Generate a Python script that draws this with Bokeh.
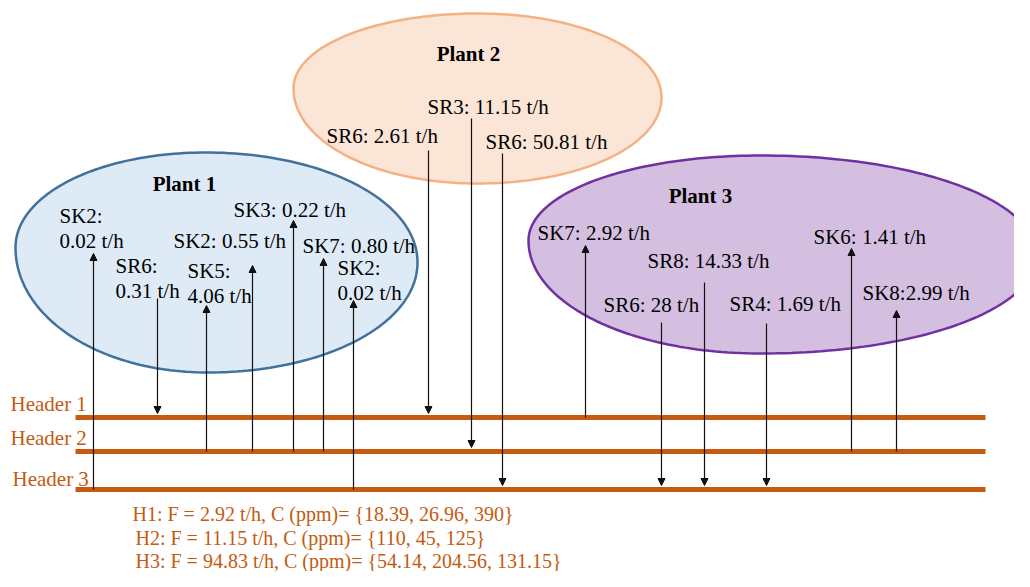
import numpy as np
from bokeh.plotting import figure
from bokeh.models import Range1d, ColumnDataSource, Arrow, NormalHead
from bokeh.core.properties import value
from bokeh.embed import file_html
from bokeh.resources import INLINE

# ---------------- data ----------------
plants = ["Plant 1", "Plant 2", "Plant 3"]
headers = ["Header 1", "Header 2", "Header 3"]

# streams: plant index, stream name, flow (t/h), header index (0..2)
stream_plant = [0, 0, 0, 0, 0, 0, 0, 1, 1, 1, 2, 2, 2, 2, 2, 2]
stream_name = ["SK2", "SR6", "SK5", "SK2", "SK3", "SK7", "SK2",
               "SR6", "SR3", "SR6",
               "SK7", "SR6", "SR8", "SR4", "SK6", "SK8"]
stream_flow = [0.02, 0.31, 4.06, 0.55, 0.22, 0.80, 0.02,
               2.61, 11.15, 50.81,
               2.92, 28, 14.33, 1.69, 1.41, 2.99]
stream_header = [2, 0, 1, 1, 1, 1, 2,
                 0, 1, 2,
                 0, 2, 2, 2, 1, 1]

header_flow = [2.92, 11.15, 94.83]
header_conc = [[18.39, 26.96, 390], [110, 45, 125], [54.14, 204.56, 131.15]]

# ---------------- layout (positions, styles) ----------------
W, H = 1014, 571
header_y = [417, 451, 489]
header_x0, header_x1 = 75, 985
header_label_xy = [(10, 403), (10, 437), (12, 478)]
ORANGE = "#C55A11"

plant_label_xy = [(184, 183), (468, 53), (700, 195)]
plant_fill = ["#DEEBF7", "#FBE5D6", "#D5BFE1"]
plant_line = ["#41719C", "#F4B183", "#7030A0"]
# extreme points of each blob: left, top, right, bottom
plant_shape = [
    [(15, 247), (205, 152), (417, 262), (207, 372)],
    [(293, 88), (477, 13), (661, 97), (477, 183)],
    [(528, 240), (760, 155), (1036, 255), (760, 353)],
]

# label positions (left, middle), two-line flag
label_xy = [(59, 215), (115, 265), (187, 270), (173, 240), (233, 209), (302, 245), (337, 267),
            (326, 135), (427, 106), (485, 141),
            (537, 232), (603, 304), (647, 260), (729, 303), (813, 236), (862, 292)]
two_line = [True, True, True, False, False, False, True,
            False, False, False,
            False, False, False, False, False, False]
no_space = [False] * 15 + [True]
# arrow x and plant-side y
arrow_x = [93, 157, 206, 252, 293, 323, 353,
           428, 471, 502,
           585, 661, 704, 766, 851, 896]
arrow_py = [253, 298, 305, 265, 220, 258, 300,
            150, 118, 153,
            245, 322, 282, 323, 248, 310]


def fmt(v):
    return str(int(v)) if float(v) == int(v) else f"{v:.2f}"


def blob(L, T, R, B, k=0.56, n=60):
    segs = [
        (L, (L[0], L[1] - k * (L[1] - T[1])), (T[0] - k * (T[0] - L[0]), T[1]), T),
        (T, (T[0] + k * (R[0] - T[0]), T[1]), (R[0], R[1] - k * (R[1] - T[1])), R),
        (R, (R[0], R[1] + k * (B[1] - R[1])), (B[0] + k * (R[0] - B[0]), B[1]), B),
        (B, (B[0] - k * (B[0] - L[0]), B[1]), (L[0], L[1] + k * (B[1] - L[1])), L),
    ]
    t = np.linspace(0, 1, n)
    xs, ys = [], []
    for p0, p1, p2, p3 in segs:
        for a in range(2):
            c = (1 - t) ** 3 * p0[a] + 3 * (1 - t) ** 2 * t * p1[a] + 3 * (1 - t) * t ** 2 * p2[a] + t ** 3 * p3[a]
            (xs if a == 0 else ys).extend(c.tolist())
    return xs, ys


p = figure(width=W, height=H, x_range=Range1d(0, W), y_range=Range1d(H, 0),
           output_backend="svg", toolbar_location=None, min_border=0)
p.axis.visible = False
p.grid.visible = False
p.outline_line_color = None
p.background_fill_color = "white"

FONT = value("Liberation Serif")

# plant blobs
for i in [0, 2, 1]:
    xs, ys = blob(*plant_shape[i])
    p.patch(xs, ys, fill_color=plant_fill[i], line_color=plant_line[i], line_width=2.5)

# plant titles
p.text(x=[xy[0] for xy in plant_label_xy], y=[xy[1] for xy in plant_label_xy], text=plants,
       text_font=FONT, text_font_size="21px", text_font_style="bold",
       text_align="center", text_baseline="middle", text_color="black")

# header lines
p.segment(x0=[header_x0] * 3, x1=[header_x1] * 3, y0=header_y, y1=header_y,
          line_color=ORANGE, line_width=5)
p.text(x=[xy[0] for xy in header_label_xy], y=[xy[1] for xy in header_label_xy], text=headers,
       text_font=FONT, text_font_size="21px", text_align="left", text_baseline="middle",
       text_color=ORANGE)

# arrows
xs0, ys0, xs1, ys1 = [], [], [], []
for i, name in enumerate(stream_name):
    hy = header_y[stream_header[i]]
    if name.startswith("SK"):  # header -> sink (up)
        xs0.append(arrow_x[i]); ys0.append(hy); xs1.append(arrow_x[i]); ys1.append(arrow_py[i])
    else:  # source -> header (down)
        xs0.append(arrow_x[i]); ys0.append(arrow_py[i]); xs1.append(arrow_x[i]); ys1.append(hy - 4)
src = ColumnDataSource(dict(x0=xs0, y0=ys0, x1=xs1, y1=ys1))
p.add_layout(Arrow(x_start="x0", y_start="y0", x_end="x1", y_end="y1", source=src,
                   line_color="#111111", line_width=1.2,
                   end=NormalHead(size=7, fill_color="#111111", line_color="#111111", line_width=1)))

# stream labels
tx, ty, tt = [], [], []
for i, name in enumerate(stream_name):
    x, y = label_xy[i]
    sep = ":" if no_space[i] else ": "
    if two_line[i]:
        tx += [x, x]; ty += [y, y + 25]; tt += [name + ":", fmt(stream_flow[i]) + " t/h"]
    else:
        tx.append(x); ty.append(y); tt.append(name + sep + fmt(stream_flow[i]) + " t/h")
p.text(x=tx, y=ty, text=tt, text_font=FONT, text_font_size="21px",
       text_align="left", text_baseline="middle", text_color="black")

# header summaries
sum_xy = [(132, 513), (135, 537), (135, 560)]
sum_text = [f"H{k + 1}: F = {header_flow[k]:g} t/h, C (ppm)= {{" + ", ".join(f"{c:g}" for c in header_conc[k]) + "}"
            for k in range(3)]
p.text(x=[xy[0] for xy in sum_xy], y=[xy[1] for xy in sum_xy], text=sum_text,
       text_font=FONT, text_font_size="20px", text_align="left", text_baseline="middle",
       text_color=ORANGE)

open("out.html", "w").write(file_html(p, INLINE))
